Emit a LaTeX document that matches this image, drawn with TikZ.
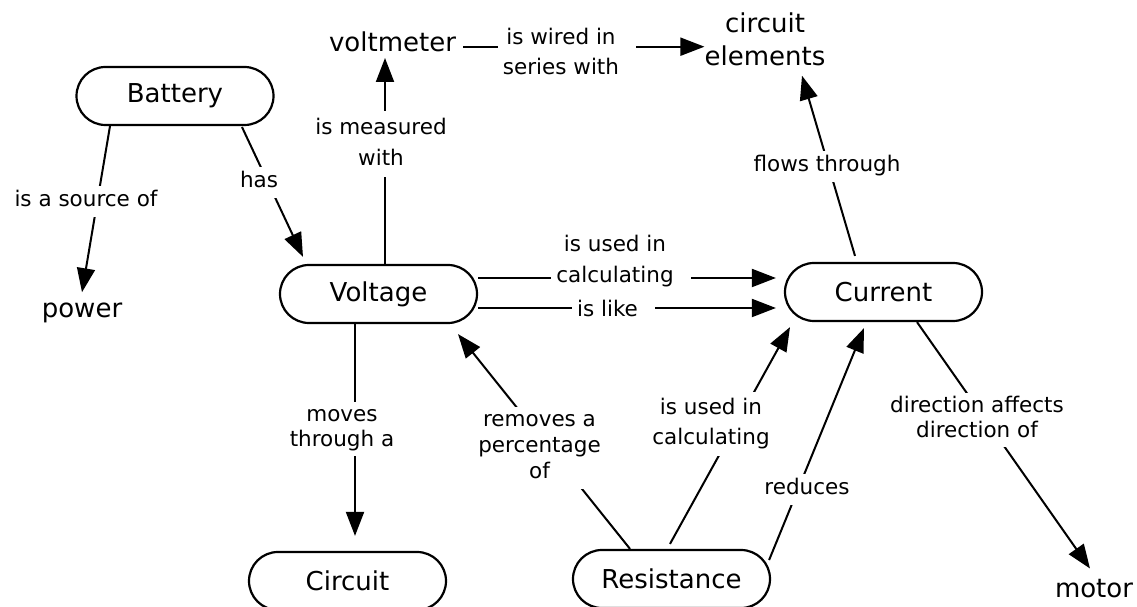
\documentclass[tikz,border=0pt]{standalone}
\usepackage{fontspec}
\setmainfont{DejaVu Sans}
\usetikzlibrary{shapes.misc,arrows.meta,calc}
\newcommand\cmaplab[2]{\fontsize{21.5}{#1}\selectfont\begin{tabular}{@{\hspace{5pt}}c@{\hspace{17pt}}}#2\end{tabular}}
\begin{document}
\begin{tikzpicture}[x=1pt,y=1pt,
  concept/.style={rounded rectangle, draw, line width=2.2pt, minimum width=197pt, minimum height=58pt, inner sep=0pt, font=\fontsize{26}{33}\selectfont},
  plain/.style={inner sep=0pt, font=\fontsize{26}{33}\selectfont, align=center},
  lab/.style={fill=white, inner xsep=0pt, inner ysep=2pt},
  conn/.style={line width=2pt, -{Triangle[length=24pt,width=18pt]}},
]
\useasboundingbox (0,0) rectangle (1137,607);
% concepts
\node[concept] (bat) at (175,511) {Battery};
\node[concept] (volt) at (378.5,313) {Voltage};
\node[concept] (cur) at (883.5,315) {Current};
\node[concept] (circ) at (347.5,26) {Circuit};
\node[concept] (res) at (671.5,28) {Resistance};
\node[plain, anchor=base] (voltm) at (392.5,555) {voltmeter};
\node[plain, anchor=base] (power) at (82,289) {power};
\node[plain, anchor=base] (motor) at (1094,9) {motor};
\node[plain, anchor=north] (circel) at (765,594.8) {circuit\\elements};
% helper levels
\coordinate (wy) at (0,560.3);
\coordinate (c1y) at (0,329);
\coordinate (c2y) at (0,299);
% connectors
\draw[conn] ([xshift=-65pt]bat.south) -- ([yshift=11pt]power.north);
\draw[conn] ([xshift=67pt,yshift=-1pt]bat.south) -- ([xshift=-75.5pt,yshift=7pt]volt.north);
\draw[conn] ([xshift=6.5pt]volt.north) -- ([xshift=-7.5pt,yshift=-6pt]voltm.base);
\draw[conn] ($(voltm.east |- wy)+(7pt,0)$) -- (circel.west |- wy);
\draw[conn] (volt.east |- c1y) -- ($(cur.west |- c1y)+(-8pt,0)$);
\draw[conn] (volt.east |- c2y) -- ($(cur.west |- c2y)+(-8pt,0)$);
\draw[conn] ([xshift=-28.5pt,yshift=6pt]cur.north) -- ([xshift=37pt,yshift=-10pt]circel.south);
\draw[conn] ([xshift=-23.5pt]volt.south) -- ([xshift=7.5pt,yshift=15pt]circ.north);
\draw[conn] ([xshift=-41.5pt]res.north) -- ([xshift=79.5pt,yshift=-10pt]volt.south);
\draw[conn] ([xshift=-1.5pt,yshift=5pt]res.north) -- ([xshift=-93.5pt,yshift=-5pt]cur.south);
\draw[conn] ([xshift=-2pt,yshift=19pt]res.east) -- ([xshift=-19.5pt,yshift=-6pt]cur.south);
\draw[conn] ([xshift=33.5pt]cur.south) -- ([xshift=-4pt,yshift=11pt]motor.north);
% linking phrases
\node[lab] (lsrc) at (92,405.4) {\cmaplab{27}{is a source of}};
\node[lab] (lhas) at (265,424.4) {\cmaplab{27}{has}};
\node[lab] (lmeas) at (387,462.7) {\cmaplab{31}{is measured\\with}};
\node[lab] (lwired) at (567,553) {\cmaplab{30}{is wired in\\series with}};
\node[lab] (lcalc) at (621,345.7) {\cmaplab{31}{is used in\\calculating}};
\node[lab] (llike) at (613.5,295.7) {\cmaplab{27}{is like}};
\node[lab] (lflows) at (833,440.7) {\cmaplab{27}{flows through}};
\node[lab] (lmoves) at (348,177.5) {\cmaplab{25}{moves\\through a}};
\node[lab] (lremov) at (545.5,159.2) {\cmaplab{26}{removes a\\percentage\\of}};
\node[lab] (lcalcb) at (717,183) {\cmaplab{30}{is used in\\calculating}};
\node[lab] (lred) at (813,117.4) {\cmaplab{27}{reduces}};
\node[lab] (ldir) at (983,186.5) {\cmaplab{25}{direction affects\\direction of}};
\end{tikzpicture}
\end{document}
